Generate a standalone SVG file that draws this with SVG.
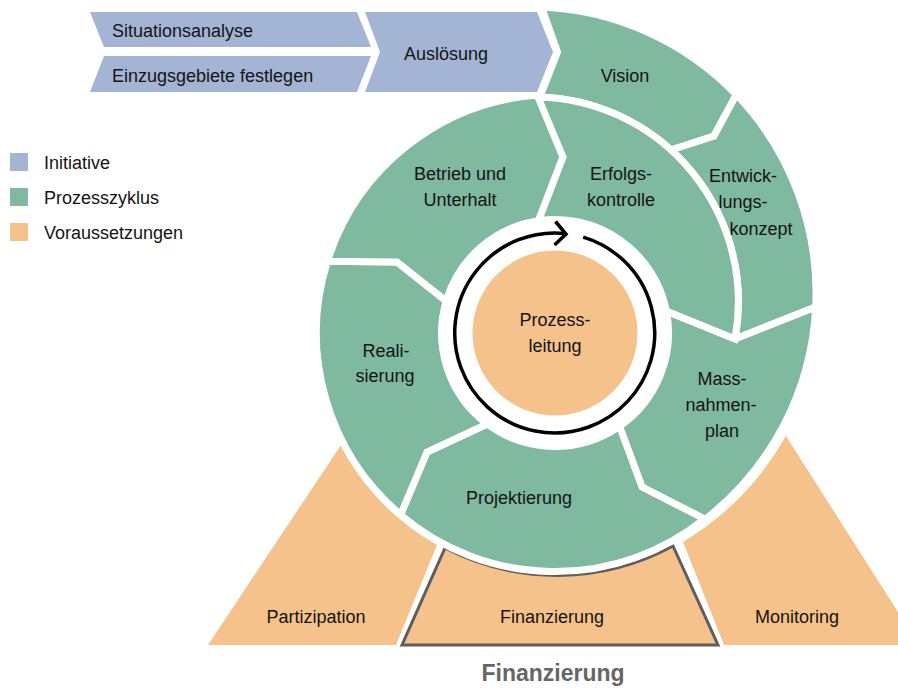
<svg xmlns="http://www.w3.org/2000/svg" width="898" height="688" viewBox="0 0 898 688">
<style>
.g{fill:#7FB9A0;stroke:#fff;stroke-width:7;stroke-linejoin:miter}
.b{fill:#A3B4D4}
.o{fill:#F5C28B}
text{font-family:"Liberation Sans",Arial,sans-serif;font-size:18px;fill:#141414}
.c{text-anchor:middle}
.lbl{font-weight:bold;font-size:23px;fill:#666}
</style>
<rect width="898" height="688" fill="#fff"/>

<g id="legend">
  <rect x="10" y="153" width="18" height="18" class="b"/>
  <text x="44" y="169">Initiative</text>
  <rect x="10" y="188" width="18" height="18" fill="#7FB9A0"/>
  <text x="44" y="204">Prozesszyklus</text>
  <rect x="10" y="223" width="18" height="18" class="o"/>
  <text x="44" y="239">Voraussetzungen</text>
</g>

<g id="partizipation">
  <path class="o" d="M208 645 L341 445 A242 242 0 0 0 437 545 L396 645 Z"/>
  <text class="c" x="316" y="623">Partizipation</text>
</g>
<g id="finanzierung">
  <path class="o" d="M445 548 A243 243 0 0 0 673 546 L718 645 L402 645 Z" stroke="#5E5E5E" stroke-width="3" stroke-linejoin="miter"/>
  <text class="c" x="552" y="623">Finanzierung</text>
</g>
<g id="monitoring">
  <path class="o" d="M683 542 A292 292 0 0 0 786 436 L919 645 L724 645 Z"/>
  <text class="c" x="797" y="623">Monitoring</text>
</g>

<g id="vision">
  <path class="g" d="M541.5 7 A286.5 286.5 0 0 1 736.3 94.7 L714 136 L671 150 A205 205 0 0 0 540 97 L557.5 52 Z"/>
  <text class="c" x="625" y="82">Vision</text>
</g>
<g id="entwicklungskonzept">
  <path class="g" d="M736.3 94.7 A286.5 286.5 0 0 1 815.7 307.1 L735 339 A205 205 0 0 0 671 150 L714 136 Z"/>
  <text class="c" x="743" y="182">Entwick-</text>
  <text class="c" x="743" y="208">lungs-</text>
  <text class="c" x="761" y="235">konzept</text>
</g>
<g id="massnahmenplan">
  <path class="g" d="M666.4 311.1 L735 339 L815.7 307.1 A286.5 286.5 0 0 1 705 519.5 L642 487 L619.5 426.4 A113.5 113.5 0 0 0 666.4 311.1 Z"/>
  <text class="c" x="722" y="385">Mass-</text>
  <text class="c" x="721" y="411">nahmen-</text>
  <text class="c" x="722" y="437">plan</text>
</g>
<g id="projektierung">
  <path class="g" d="M619.5 426.4 L642 487 L704.5 518.9 A238.5 238.5 0 0 1 400.6 514.8 L427 452 L487.2 424 A113.5 113.5 0 0 0 619.5 426.4 Z"/>
  <text class="c" x="519" y="504">Projektierung</text>
</g>
<g id="realisierung">
  <path class="g" d="M487.2 424 L427 452 L400.6 514.8 A238.5 238.5 0 0 1 327.5 261.2 L397 262 L446.2 300.9 A113.5 113.5 0 0 0 487.2 424 Z"/>
  <text class="c" x="386" y="357">Reali-</text>
  <text class="c" x="385" y="382">sierung</text>
</g>
<g id="betrieb">
  <path class="g" d="M446.2 300.9 L397 262 L327.5 261.2 A238.5 238.5 0 0 1 537.8 95.1 L563 157 L538.5 220.7 A113.5 113.5 0 0 0 446.2 300.9 Z"/>
  <text class="c" x="460" y="180">Betrieb und</text>
  <text class="c" x="460" y="206">Unterhalt</text>
</g>
<g id="erfolgskontrolle">
  <path class="g" d="M538.5 220.7 L563 157 L538 97 A205 205 0 0 1 735 339 L666.4 311.1 A113.5 113.5 0 0 0 538.5 220.7 Z"/>
  <text class="c" x="621" y="180">Erfolgs-</text>
  <text class="c" x="621" y="206">kontrolle</text>
</g>

<g id="situationsanalyse">
  <path class="b" d="M90 12 L357 12 L371 47 L104 47 Z"/>
  <text x="112" y="37">Situationsanalyse</text>
</g>
<g id="einzugsgebiete">
  <path class="b" d="M104 56 L371 56 L357 92 L90 92 Z"/>
  <text x="112" y="82">Einzugsgebiete festlegen</text>
</g>
<g id="ausloesung">
  <path class="b" d="M365 12 L537 12 L553 52 L537 92 L365 92 L380 52 Z"/>
  <text class="c" x="446" y="60">Auslösung</text>
</g>

<g id="prozessleitung">
  <circle cx="555" cy="333" r="82.5" class="o"/>
  <text class="c" x="555" y="326">Prozess-</text>
  <text class="c" x="555" y="352">leitung</text>
</g>

<g id="connectors">
  <path d="M583.2 237.1 A100 100 0 1 1 565.1 233.5" fill="none" stroke="#000" stroke-width="3.5"/>
  <polyline points="555.5,221.5 566,234 554.5,245" fill="none" stroke="#000" stroke-width="3.5"/>
</g>

<text class="c lbl" x="553" y="681">Finanzierung</text>
</svg>
